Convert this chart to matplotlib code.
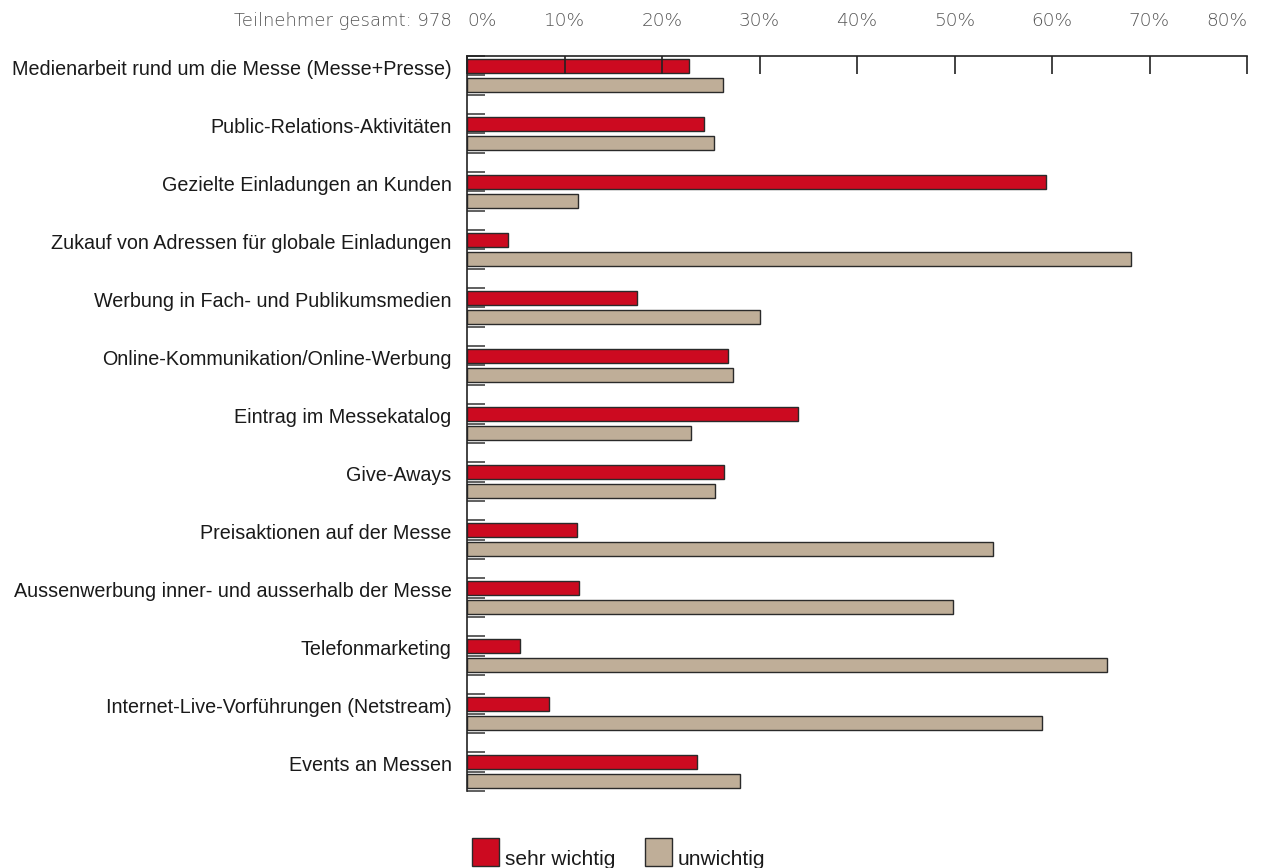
import matplotlib
matplotlib.use("Agg")
import matplotlib.pyplot as plt
from matplotlib.patches import Rectangle
from matplotlib.ticker import FixedLocator
import numpy as np

categories = [
    "Medienarbeit rund um die Messe (Messe+Presse)",
    "Public-Relations-Aktivitäten",
    "Gezielte Einladungen an Kunden",
    "Zukauf von Adressen für globale Einladungen",
    "Werbung in Fach- und Publikumsmedien",
    "Online-Kommunikation/Online-Werbung",
    "Eintrag im Messekatalog",
    "Give-Aways",
    "Preisaktionen auf der Messe",
    "Aussenwerbung inner- und ausserhalb der Messe",
    "Telefonmarketing",
    "Internet-Live-Vorführungen (Netstream)",
    "Events an Messen",
]
sehr_wichtig = [22.8, 24.3, 59.4, 4.2, 17.4, 26.8, 33.9, 26.4, 11.3, 11.5, 5.4, 8.4, 23.6]
unwichtig = [26.3, 25.3, 11.4, 68.1, 30.1, 27.3, 23.0, 25.4, 53.9, 49.8, 65.6, 59.0, 28.0]
x_ticks = [0, 10, 20, 30, 40, 50, 60, 70, 80]
x_ticklabels = [f"{t}%" for t in x_ticks]
series_labels = ["sehr wichtig", "unwichtig"]
participants = "Teilnehmer gesamt: 978"

RED = "#cc0a20"
TAN = "#bfae98"
EDGE = "#2a2a2a"
SCALE_GREY = "#555555"
LABEL_FONT = ["Liberation Sans", "DejaVu Sans"]
SCALE_FONT = ["DejaVu Sans"]

plt.rcParams["font.family"] = LABEL_FONT

fig = plt.figure(figsize=(12.65, 8.68), dpi=100)
ax = fig.add_axes([467 / 1265, 1 - 791 / 868, 780 / 1265, 735 / 868])

n = len(categories)
# each category occupies three slots: red bar, tan bar, spacer
pos_red = np.arange(n) * 3 + 0.5
pos_tan = np.arange(n) * 3 + 1.5
bar_h = 0.72
ax.barh(pos_red, sehr_wichtig, height=bar_h, color=RED, edgecolor=EDGE, linewidth=1.0)
ax.barh(pos_tan, unwichtig, height=bar_h, color=TAN, edgecolor=EDGE, linewidth=1.0)

total_slots = 3 * n - 1
ax.set_ylim(total_slots, 0)
ax.set_xlim(0, 80)

# x axis on top, ticks pointing into the plot
ax.xaxis.set_ticks_position("top")
ax.xaxis.set_label_position("top")
ax.set_xticks(x_ticks)
ax.set_xticklabels(x_ticklabels)
ax.tick_params(axis="x", which="major", direction="in", length=13, width=1.2,
               colors="#222222", labelcolor=SCALE_GREY, labelsize=13.3, pad=19,
               top=True, bottom=False)
xlbls = ax.get_xticklabels()
for lbl in xlbls:
    lbl.set_family(SCALE_FONT)
    lbl.set_fontweight("light")
xlbls[0].set_horizontalalignment("left")
xlbls[-1].set_horizontalalignment("right")

# y axis: category labels at red bars, short marks at every slot boundary
ax.set_yticks(pos_red + 0.08)
ax.set_yticklabels(categories)
ax.tick_params(axis="y", which="major", length=0, pad=11, labelsize=14.2, labelcolor="#1a1a1a")
ax.yaxis.set_minor_locator(FixedLocator(np.arange(0, total_slots + 1)))
ax.tick_params(axis="y", which="minor", direction="in", length=13, width=1.2, colors="#444444")

for side in ["right", "bottom"]:
    ax.spines[side].set_visible(False)
for side in ["top", "left"]:
    ax.spines[side].set_linewidth(1.2)
    ax.spines[side].set_color("#222222")

# participant count beside the percentage scale
fig.text(452 / 1265, 1 - 21 / 868, participants, ha="right", va="center",
         fontsize=13.0, color=SCALE_GREY, family=SCALE_FONT, fontweight="light")

# legend drawn as squares with labels below the chart
W, H = 1265, 868
for x0, color, label, tx in [(472, RED, series_labels[0], 505), (645, TAN, series_labels[1], 678)]:
    fig.add_artist(Rectangle((x0 / W, 1 - 866 / H), 27 / W, 28 / H, transform=fig.transFigure,
                             facecolor=color, edgecolor=EDGE, linewidth=1.0))
    fig.text(tx / W, 1 - 865 / H, label, ha="left", va="baseline", fontsize=15,
             color="#1a1a1a")

fig.savefig("out.png", dpi=100)
